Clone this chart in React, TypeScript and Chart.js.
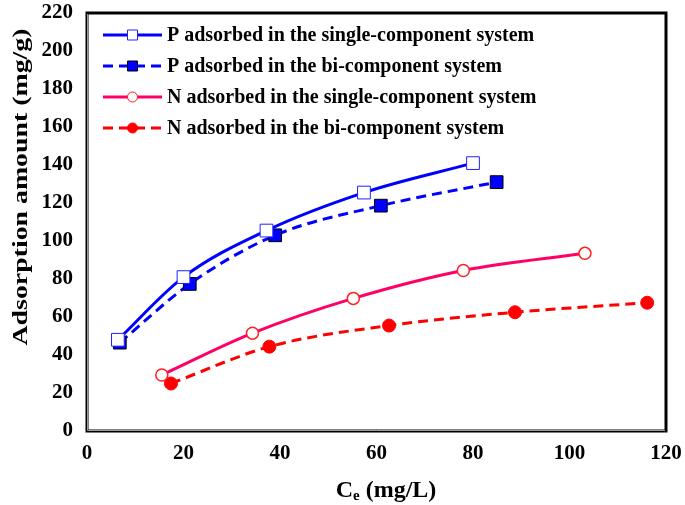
import React, { useEffect, useRef } from "react";
import { Chart, registerables } from "chart.js";

Chart.register(...registerables);

const pSingleX = [6.4, 20, 37.2, 57.4, 80];
const pSingleY = [48, 81, 105.5, 125.5, 141];
const pBiX = [6.8, 21.3, 39, 60.9, 84.9];
const pBiY = [46.5, 77.4, 103, 118.6, 131];
const nSingleX = [15.5, 34.3, 55.2, 78, 103.2];
const nSingleY = [29.5, 51.5, 69.8, 84.5, 93.5];
const nBiX = [17.4, 37.8, 62.6, 88.7, 116.1];
const nBiY = [25, 44.4, 55.5, 62.5, 67.5];

const seriesLabels = [
  "P adsorbed in the single-component system",
  "P adsorbed in the bi-component system",
  "N adsorbed in the single-component system",
  "N adsorbed in the bi-component system",
];
const xTitleMain = "C";
const xTitleSub = "e";
const xTitleRest = " (mg/L)";
const yTitle = "Adsorption amount (mg/g)";

const FONT = '"Liberation Serif", "Times New Roman", serif';

const pts = (xs: number[], ys: number[]) => xs.map((x, i) => ({ x, y: ys[i] }));

const framePlugin = {
  id: "frame",
  afterDraw(chart: any) {
    const { ctx, chartArea: a } = chart;
    ctx.save();
    // frame
    ctx.strokeStyle = "#000";
    ctx.lineWidth = 3;
    ctx.strokeRect(a.left, a.top, a.right - a.left, a.bottom - a.top);
    ctx.strokeStyle = "#9a9a9a";
    ctx.lineWidth = 1;
    ctx.beginPath();
    ctx.moveTo(a.left + 0.5, a.top + 1);
    ctx.lineTo(a.left + 0.5, a.bottom - 0.5);
    ctx.lineTo(a.right - 1, a.bottom - 0.5);
    ctx.stroke();

    // y title (stretched along its length like the reference)
    ctx.fillStyle = "#000";
    ctx.font = `bold 22px ${FONT}`;
    ctx.textAlign = "center";
    ctx.textBaseline = "middle";
    const tw = ctx.measureText(yTitle).width;
    ctx.translate(21, 187);
    ctx.rotate(-Math.PI / 2);
    ctx.scale(317 / tw, 1);
    ctx.fillText(yTitle, 0, 0);
    ctx.restore();

    // x title with subscript
    ctx.save();
    ctx.fillStyle = "#000";
    ctx.textBaseline = "alphabetic";
    ctx.textAlign = "left";
    const mainFont = `bold 24px ${FONT}`;
    const subFont = `bold 15px ${FONT}`;
    ctx.font = mainFont;
    const w1 = ctx.measureText(xTitleMain).width;
    const w3 = ctx.measureText(xTitleRest).width;
    ctx.font = subFont;
    const w2 = ctx.measureText(xTitleSub).width;
    const total = w1 + w2 + w3;
    let x = 386 - total / 2;
    const base = 497;
    ctx.font = mainFont;
    ctx.fillText(xTitleMain, x, base);
    x += w1;
    ctx.font = subFont;
    ctx.fillText(xTitleSub, x, base + 3);
    x += w2;
    ctx.font = mainFont;
    ctx.fillText(xTitleRest, x, base);
    ctx.restore();

    // legend
    ctx.save();
    const rows = [35, 66, 97, 128];
    chart.data.datasets.forEach((ds: any, i: number) => {
      const y = rows[i];
      ctx.strokeStyle = ds.borderColor;
      ctx.lineWidth = ds.borderWidth;
      ctx.setLineDash(ds.borderDash || []);
      ctx.beginPath();
      ctx.moveTo(103, y);
      ctx.lineTo(162, y);
      ctx.stroke();
      ctx.setLineDash([]);
      const cx = 132.5;
      ctx.beginPath();
      if (ds.pointStyle === "rect") {
        ctx.rect(cx - 5, y - 5, 10, 10);
      } else {
        ctx.arc(cx, y, 5, 0, Math.PI * 2);
      }
      ctx.fillStyle = ds.pointBackgroundColor;
      ctx.fill();
      ctx.strokeStyle = ds.pointBorderColor;
      ctx.lineWidth = 1;
      ctx.stroke();
      ctx.fillStyle = "#000";
      ctx.font = `bold 20px ${FONT}`;
      ctx.textAlign = "left";
      ctx.textBaseline = "middle";
      ctx.fillText(seriesLabels[i], 167, y + 1);
    });
    ctx.restore();
  },
};

const zeroPad = (s: any) => {
  s.paddingTop = 0;
  s.paddingBottom = 0;
  s.paddingLeft = 0;
  s.paddingRight = 0;
};

export default function App() {
  const ref = useRef<HTMLCanvasElement | null>(null);
  useEffect(() => {
    document.body.style.margin = "0";
    const canvas = ref.current!;
    const chart = new Chart(canvas, {
      type: "line",
      data: {
        datasets: [
          {
            label: seriesLabels[0],
            data: pts(pSingleX, pSingleY),
            borderColor: "#0000FF",
            borderWidth: 3,
            pointStyle: "rect",
            pointRadius: 9,
            pointBackgroundColor: "#FFFFFF",
            pointBorderColor: "#2020FF",
            pointBorderWidth: 1,
            cubicInterpolationMode: "monotone",
          },
          {
            label: seriesLabels[1],
            data: pts(pBiX, pBiY),
            borderColor: "#0000FF",
            borderWidth: 3,
            borderDash: [10, 6],
            pointStyle: "rect",
            pointRadius: 9,
            pointBackgroundColor: "#0000FF",
            pointBorderColor: "#000000",
            pointBorderWidth: 1,
            cubicInterpolationMode: "monotone",
          },
          {
            label: seriesLabels[2],
            data: pts(nSingleX, nSingleY),
            borderColor: "#FF0066",
            borderWidth: 3,
            pointStyle: "circle",
            pointRadius: 6,
            pointBackgroundColor: "#FFFFFF",
            pointBorderColor: "#FF2020",
            pointBorderWidth: 1.5,
            cubicInterpolationMode: "monotone",
          },
          {
            label: seriesLabels[3],
            data: pts(nBiX, nBiY),
            borderColor: "#FF0000",
            borderWidth: 3,
            borderDash: [10, 6],
            pointStyle: "circle",
            pointRadius: 6.5,
            pointBackgroundColor: "#FF0000",
            pointBorderColor: "#FF0000",
            pointBorderWidth: 1,
            cubicInterpolationMode: "monotone",
          },
        ],
      },
      options: {
        animation: false,
        responsive: false,
        maintainAspectRatio: false,
        layout: { padding: { top: 13, right: 19, left: 0, bottom: 0 } },
        plugins: { legend: { display: false }, tooltip: { enabled: false } },
        scales: {
          x: {
            type: "linear",
            min: 0,
            max: 120,
            grid: { display: false, drawTicks: false },
            border: { display: false },
            ticks: {
              stepSize: 20,
              padding: 10,
              color: "#000",
              font: { family: FONT, size: 21, weight: "bold" },
              maxRotation: 0,
            },
            afterFit: (s: any) => {
              s.height = 74;
              zeroPad(s);
            },
          },
          y: {
            min: 0,
            max: 220,
            grid: { display: false, drawTicks: false },
            border: { display: false },
            ticks: {
              stepSize: 20,
              padding: 14,
              color: "#000",
              font: { family: FONT, size: 21, weight: "bold" },
            },
            afterFit: (s: any) => {
              s.width = 87;
              zeroPad(s);
            },
          },
        },
      },
      plugins: [framePlugin],
    } as any);
    return () => chart.destroy();
  }, []);
  return <canvas ref={ref} width={685} height={505} style={{ display: "block", width: 685, height: 505 }} />;
}
